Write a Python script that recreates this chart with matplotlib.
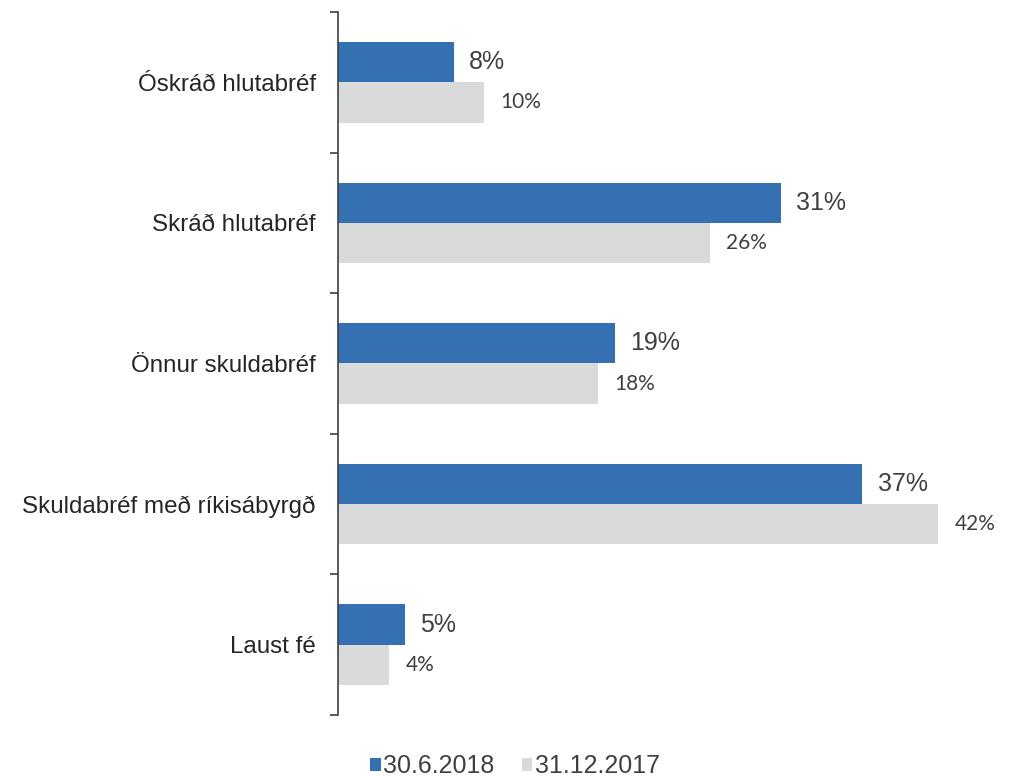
import matplotlib
matplotlib.use("Agg")
import matplotlib.pyplot as plt
import numpy as np

categories = ["Óskráð hlutabréf", "Skráð hlutabréf", "Önnur skuldabréf",
              "Skuldabréf með ríkisábyrgð", "Laust fé"]
series_names = ["30.6.2018", "31.12.2017"]
values_2018 = [8.1, 31.0, 19.4, 36.7, 4.7]
values_2017 = [10.2, 26.0, 18.2, 42.0, 3.6]

blue = "#3570B2"
gray = "#D9DADA"
text_col = "#404040"

fig = plt.figure(figsize=(10.2, 7.76), dpi=100)
ax = fig.add_axes([338/1020, 1 - 715/776, (981-338)/1020, (715-12)/776])

y = np.arange(len(categories))
h = 0.286
b1 = ax.barh(y - h/2, values_2018, height=h, color=blue, label=series_names[0])
b2 = ax.barh(y + h/2, values_2017, height=h, color=gray, label=series_names[1])

for yi, v in zip(y, values_2018):
    ax.annotate(f"{v:.0f}%", xy=(v, yi - h/2), xytext=(11, 0), textcoords="offset points",
                va="center", ha="left", fontsize=18, color=text_col,
                family=["Liberation Sans", "DejaVu Sans"])
for yi, v in zip(y, values_2017):
    ax.annotate(f"{v:.0f}%", xy=(v, yi + h/2), xytext=(12, 0), textcoords="offset points",
                va="center", ha="left", fontsize=15, color=text_col,
                family=["Lato", "DejaVu Sans"])

ax.set_xlim(0, 45)
ax.set_ylim(len(categories) - 0.5, -0.5)
ax.set_yticks(y)
ax.set_yticklabels(categories, fontsize=17.4, color="#262626",
                   family="Liberation Sans")
ax.set_yticks(np.arange(-0.5, len(categories), 1.0), minor=True)
ax.tick_params(axis="y", which="major", length=0, pad=16)
ax.tick_params(axis="y", which="minor", length=6, width=1.2, color="#404040")
ax.set_xticks([])
for s in ["top", "right", "bottom"]:
    ax.spines[s].set_visible(False)
ax.spines["left"].set_color("#404040")
ax.spines["left"].set_linewidth(1.2)

leg = fig.legend(handles=[b1, b2], labels=series_names, loc="center",
                 bbox_to_anchor=(515/1020, 1 - 766/776), ncol=2, frameon=False,
                 prop={"family": "Liberation Sans", "size": 18},
                 handlelength=0.42, handleheight=0.42, handletextpad=0.1,
                 columnspacing=1.1)
for t in leg.get_texts():
    t.set_color(text_col)

fig.savefig("out.png", dpi=100)
